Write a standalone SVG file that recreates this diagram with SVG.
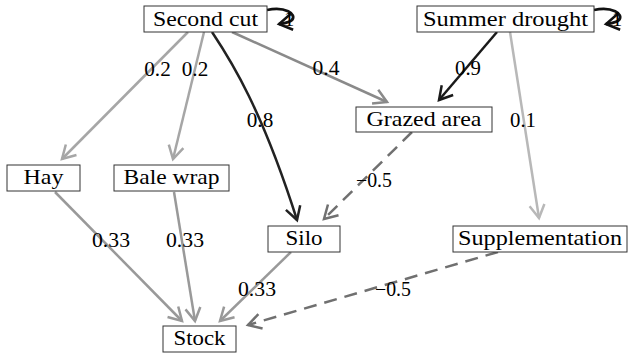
<svg xmlns="http://www.w3.org/2000/svg" width="628" height="354" viewBox="0 0 628 354">
<style>
.box{fill:#fff;stroke:#333;stroke-width:1}
.nt{font-family:"Liberation Serif","Times New Roman",serif;font-size:22px;fill:#000;text-anchor:middle}
.el{font-family:"Liberation Serif","Times New Roman",serif;font-size:20.5px;fill:#000;text-anchor:middle}
.e{fill:none;stroke-width:2.5}
.c1{stroke:#a6a6a6}
.c2{stroke:#b8b8b8}
.c3{stroke:#999999}
.c4{stroke:#8a8a8a}
.c5{stroke:#222222}
.c6{stroke:#1a1a1a}
.c7{stroke:#707070;stroke-dasharray:13 8}
.c8{stroke:#111111;stroke-width:2.8}
.mh{fill:none;stroke-width:2.5;stroke-linejoin:miter}
</style>
<defs>
<marker id="m1" markerUnits="userSpaceOnUse" viewBox="-16 -10 18 20" refX="0" refY="0" markerWidth="18" markerHeight="20" orient="auto" overflow="visible"><path class="mh" d="M-13,-7.5 L0,0 L-13,7.5" stroke="#a6a6a6"/></marker>
<marker id="m2" markerUnits="userSpaceOnUse" viewBox="-16 -10 18 20" refX="0" refY="0" markerWidth="18" markerHeight="20" orient="auto" overflow="visible"><path class="mh" d="M-13,-7.5 L0,0 L-13,7.5" stroke="#b8b8b8"/></marker>
<marker id="m3" markerUnits="userSpaceOnUse" viewBox="-16 -10 18 20" refX="0" refY="0" markerWidth="18" markerHeight="20" orient="auto" overflow="visible"><path class="mh" d="M-13,-7.5 L0,0 L-13,7.5" stroke="#999999"/></marker>
<marker id="m4" markerUnits="userSpaceOnUse" viewBox="-16 -10 18 20" refX="0" refY="0" markerWidth="18" markerHeight="20" orient="auto" overflow="visible"><path class="mh" d="M-13,-7.5 L0,0 L-13,7.5" stroke="#8a8a8a"/></marker>
<marker id="m5" markerUnits="userSpaceOnUse" viewBox="-16 -10 18 20" refX="0" refY="0" markerWidth="18" markerHeight="20" orient="auto" overflow="visible"><path class="mh" d="M-13,-7.5 L0,0 L-13,7.5" stroke="#222222"/></marker>
<marker id="m6" markerUnits="userSpaceOnUse" viewBox="-16 -10 18 20" refX="0" refY="0" markerWidth="18" markerHeight="20" orient="auto" overflow="visible"><path class="mh" d="M-13,-7.5 L0,0 L-13,7.5" stroke="#1a1a1a"/></marker>
<marker id="m7" markerUnits="userSpaceOnUse" viewBox="-16 -10 18 20" refX="0" refY="0" markerWidth="18" markerHeight="20" orient="auto" overflow="visible"><path class="mh" d="M-13,-7.5 L0,0 L-13,7.5" stroke="#707070"/></marker>
<marker id="m8" markerUnits="userSpaceOnUse" viewBox="-16 -10 18 20" refX="0" refY="0" markerWidth="18" markerHeight="20" orient="auto" overflow="visible"><path class="mh" d="M-13,-8 L0,0 L-13,8" stroke="#111111" stroke-width="2.8"/></marker>
</defs>

<g id="edges">
<line class="e c1" x1="188" y1="32" x2="62" y2="159" marker-end="url(#m1)"/>
<line class="e c1" x1="204" y1="32" x2="173" y2="159" marker-end="url(#m1)"/>
<path class="e c5" d="M212,32 C232,62 262,110 297,220" marker-end="url(#m5)"/>
<line class="e c4" x1="232" y1="32" x2="387" y2="102" marker-end="url(#m4)"/>
<line class="e c6" x1="497" y1="32" x2="439" y2="100" marker-end="url(#m6)"/>
<line class="e c2" x1="510" y1="32" x2="539" y2="218" marker-end="url(#m2)"/>
<line class="e c7" x1="412" y1="132" x2="324" y2="219" marker-end="url(#m7)"/>
<line class="e c3" x1="55" y1="192" x2="182" y2="321" marker-end="url(#m3)"/>
<line class="e c3" x1="174" y1="192" x2="195" y2="321" marker-end="url(#m3)"/>
<line class="e c3" x1="291" y1="252" x2="220" y2="321" marker-end="url(#m3)"/>
<line class="e c7" x1="498" y1="252" x2="248" y2="325" marker-end="url(#m7)"/>
<path class="e c8" d="M267,10 C285,6 297,14 292,20 C289,23 285,23 279,24" marker-end="url(#m8)"/>
<path class="e c8" d="M594,10 C612,6 624,14 619,20 C616,23 612,23 606,24" marker-end="url(#m8)"/>
<text class="el" x="157.5" y="76" textLength="26.5" lengthAdjust="spacingAndGlyphs">0.2</text>
<text class="el" x="195" y="76" textLength="26.5" lengthAdjust="spacingAndGlyphs">0.2</text>
<text class="el" x="260" y="127" textLength="26.5" lengthAdjust="spacingAndGlyphs">0.8</text>
<text class="el" x="326" y="75" textLength="27" lengthAdjust="spacingAndGlyphs">0.4</text>
<text class="el" x="468" y="75" textLength="26" lengthAdjust="spacingAndGlyphs">0.9</text>
<text class="el" x="523" y="127" textLength="26" lengthAdjust="spacingAndGlyphs">0.1</text>
<text class="el" x="374" y="187" textLength="36" lengthAdjust="spacingAndGlyphs">−0.5</text>
<text class="el" x="111" y="247" textLength="38" lengthAdjust="spacingAndGlyphs">0.33</text>
<text class="el" x="185" y="247" textLength="38" lengthAdjust="spacingAndGlyphs">0.33</text>
<text class="el" x="257" y="296" textLength="38" lengthAdjust="spacingAndGlyphs">0.33</text>
<text class="el" x="393" y="296" textLength="36" lengthAdjust="spacingAndGlyphs">−0.5</text>
<text class="el" x="289" y="26">1</text>
<text class="el" x="617" y="26">1</text>
</g>

<g id="node-second-cut"><rect class="box" x="144" y="6" width="123" height="26"/><text class="nt" x="205.5" y="25.5" textLength="105" lengthAdjust="spacingAndGlyphs">Second cut</text></g>
<g id="node-summer-drought"><rect class="box" x="417" y="6" width="177" height="26"/><text class="nt" x="505.5" y="25.5" textLength="165" lengthAdjust="spacingAndGlyphs">Summer drought</text></g>
<g id="node-hay"><rect class="box" x="7" y="165" width="73" height="26"/><text class="nt" x="43.5" y="184" textLength="40" lengthAdjust="spacingAndGlyphs">Hay</text></g>
<g id="node-bale-wrap"><rect class="box" x="114" y="165" width="115" height="26"/><text class="nt" x="171.5" y="184" textLength="96" lengthAdjust="spacingAndGlyphs">Bale wrap</text></g>
<g id="node-grazed-area"><rect class="box" x="356" y="107" width="136" height="25"/><text class="nt" x="424" y="125.5" textLength="115" lengthAdjust="spacingAndGlyphs">Grazed area</text></g>
<g id="node-silo"><rect class="box" x="268" y="226" width="72" height="26"/><text class="nt" x="304" y="245" textLength="37" lengthAdjust="spacingAndGlyphs">Silo</text></g>
<g id="node-supplementation"><rect class="box" x="453" y="226" width="174" height="26"/><text class="nt" x="540" y="245" textLength="164" lengthAdjust="spacingAndGlyphs">Supplementation</text></g>
<g id="node-stock"><rect class="box" x="163" y="326" width="73" height="26"/><text class="nt" x="199.5" y="345" textLength="52" lengthAdjust="spacingAndGlyphs">Stock</text></g>
</svg>
